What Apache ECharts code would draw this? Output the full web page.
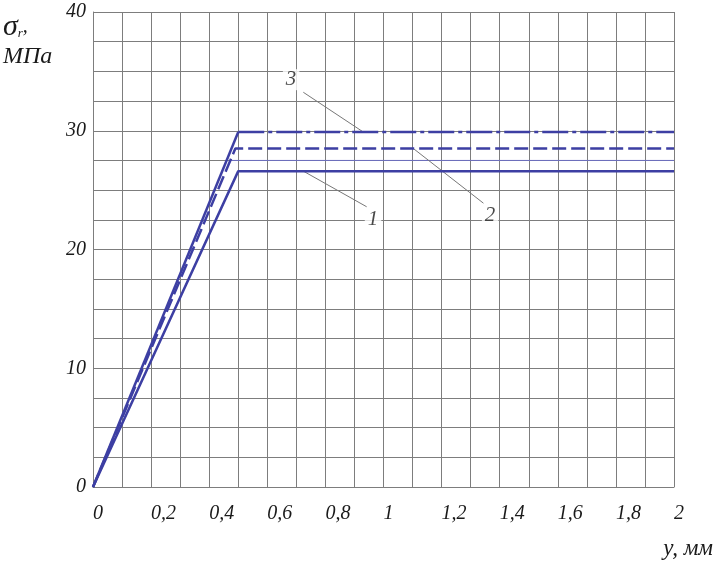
<!DOCTYPE html>
<html>
<head>
<meta charset="utf-8">
<script src="https://cdn.jsdelivr.net/npm/echarts@6/dist/echarts.min.js"></script>
<style>
html,body{margin:0;padding:0;background:#fff;}
#chart{width:720px;height:561px;}
</style>
</head>
<body>
<div id="chart"></div>
<script>
// ---- data ----
const xTickLabels = ['0','0,2','0,4','0,6','0,8','1','1,2','1,4','1,6','1,8','2'];
const yTickLabels = ['0','10','20','30','40'];
const curve1 = [[0, 0], [0.50, 26.6], [2, 26.6]];   // solid
const curve2 = [[0, 0], [0.49, 28.5], [2, 28.5]];   // dashed
const curve3 = [[0, 0], [0.50, 29.9], [2, 29.9]];   // dash-dot (rise drawn solid)
const thinBlue = [[0.47, 27.5], [2, 27.5]];
const leader1 = [[0.724, 26.6], [0.942, 23.6]];
const leader2 = [[1.103, 28.5], [1.344, 23.9]];
const leader3 = [[0.724, 33.24], [0.93, 29.9]];
const curveLabels = [
  {name: '1', value: [0.964, 22.5]},
  {name: '2', value: [1.367, 22.9]},
  {name: '3', value: [0.682, 34.3]}
];

const FONT = '"Liberation Serif", "DejaVu Serif", serif';
const BLUE = '#3d3fa3';
const GRID = '#7d7d7d';
const TXT = '#1a1a1a';

const chart = echarts.init(document.getElementById('chart'));
chart.setOption({
  animation: false,
  backgroundColor: '#fff',
  grid: {left: 93, right: 46, top: 12, bottom: 74, containLabel: false},
  xAxis: {
    type: 'value', min: 0, max: 2, interval: 0.1,
    axisLine: {show: true, lineStyle: {color: GRID, width: 1}},
    axisTick: {show: false},
    splitLine: {show: true, lineStyle: {color: GRID, width: 1}},
    axisLabel: {
      margin: 17, align: 'left',
      fontFamily: FONT, fontStyle: 'italic', fontSize: 20, color: TXT,
      formatter: function (v) {
        const i = Math.round(v * 10);
        return i % 2 === 0 ? xTickLabels[i / 2] : '';
      }
    }
  },
  yAxis: {
    type: 'value', min: 0, max: 40, interval: 2.5,
    axisLine: {show: true, lineStyle: {color: GRID, width: 1}},
    axisTick: {show: false},
    splitLine: {show: true, lineStyle: {color: GRID, width: 1}},
    axisLabel: {
      margin: 7,
      fontFamily: FONT, fontStyle: 'italic', fontSize: 20, color: TXT,
      formatter: function (v) {
        const i = Math.round(v / 2.5);
        return i % 4 === 0 ? yTickLabels[i / 4] : '';
      }
    }
  },
  graphic: [
    {type: 'text', left: 3, top: 12, style: {
      text: '{s|σ}{r|r}{c|,}',
      rich: {
        s: {fontFamily: FONT, fontStyle: 'italic', fontSize: 30, fill: TXT},
        r: {fontFamily: FONT, fontStyle: 'italic', fontSize: 13, fill: TXT, padding: [14, 0, 0, 0]},
        c: {fontFamily: FONT, fontStyle: 'italic', fontSize: 20, fill: TXT}
      }
    }},
    {type: 'text', left: 3, top: 45, style: {
      text: 'МПа', fontFamily: FONT, fontStyle: 'italic', fontSize: 24, fill: TXT
    }},
    {type: 'text', right: 7, top: 537, style: {
      text: 'y, мм', fontFamily: FONT, fontStyle: 'italic', fontSize: 23, fill: TXT
    }}
  ],
  series: [
    {type: 'line', data: thinBlue, symbol: 'none', lineStyle: {color: '#6d6fc0', width: 1}, z: 2},
    {type: 'line', data: leader1, symbol: 'none', lineStyle: {color: '#777', width: 1}, z: 2},
    {type: 'line', data: leader2, symbol: 'none', lineStyle: {color: '#777', width: 1}, z: 2},
    {type: 'line', data: leader3, symbol: 'none', lineStyle: {color: '#777', width: 1}, z: 2},
    {type: 'line', data: curve1, symbol: 'none', lineStyle: {color: BLUE, width: 2.5}, z: 3},
    {type: 'line', data: curve2, symbol: 'none', lineStyle: {color: BLUE, width: 2.5, type: [14, 5]}, z: 3},
    {type: 'line', data: curve3.slice(0, 2), symbol: 'none', lineStyle: {color: BLUE, width: 2.5}, z: 3},
    {type: 'line', data: curve3.slice(1), symbol: 'none', lineStyle: {color: BLUE, width: 2.5, type: [26, 4, 4, 4]}, z: 3},
    {type: 'scatter', data: curveLabels, symbolSize: 0, z: 4,
      label: {show: true, position: 'inside', formatter: '{b}',
        fontFamily: FONT, fontStyle: 'italic', fontSize: 21, color: TXT,
        backgroundColor: '#fff', padding: [0, 3]}}
  ]
});
</script>
</body>
</html>
